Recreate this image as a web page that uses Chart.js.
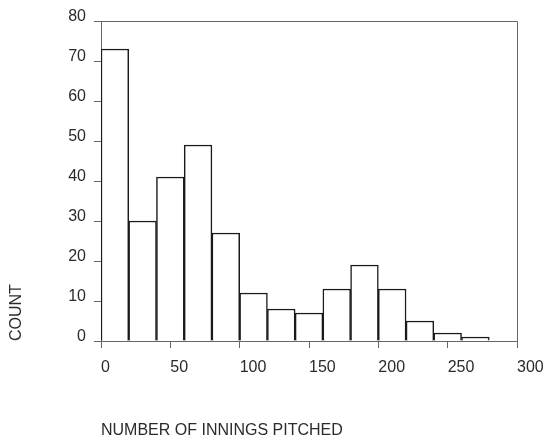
<!DOCTYPE html>
<html>
<head>
<meta charset="utf-8">
<script src="https://cdn.jsdelivr.net/npm/chart.js@4"></script>
<style>
  html, body { margin: 0; padding: 0; background: #fff; }
  #wrap { width: 545px; height: 440px; }
</style>
</head>
<body>
<div id="wrap"><canvas id="c" width="545" height="440"></canvas></div>
<script>
// Histogram bins (innings pitched) and counts
const binLower = [0, 20, 40, 60, 80, 100, 120, 140, 160, 180, 200, 220, 240, 260];
const binUpper = [20, 40, 60, 80, 100, 120, 140, 160, 180, 200, 220, 240, 260, 280];
const counts   = [73, 30, 41, 49, 27, 12, 8, 7, 13, 19, 13, 5, 2, 1];
const xTicks = [0, 50, 100, 150, 200, 250, 300];
const yTicks = [0, 10, 20, 30, 40, 50, 60, 70, 80];
const xTitle = 'NUMBER OF INNINGS PITCHED';
const yTitle = 'COUNT';

const points = binLower.map((lo, i) => ({ x: (lo + binUpper[i]) / 2, y: counts[i] }));

const FONT = "'Liberation Sans', Arial, Helvetica, sans-serif";
const TEXT = '#2b2b2b';
const AXIS = '#666';

function clearPad(axis) {
  axis.paddingTop = 0; axis.paddingBottom = 0;
  axis.paddingLeft = 0; axis.paddingRight = 0;
}

const framePlugin = {
  id: 'frame',
  afterDraw(chart) {
    const { ctx, chartArea: a } = chart;
    ctx.save();
    ctx.strokeStyle = AXIS;
    ctx.lineWidth = 1;
    ctx.beginPath();
    ctx.moveTo(a.left, Math.round(a.top) + 0.5);
    ctx.lineTo(Math.round(a.right) + 0.5, Math.round(a.top) + 0.5);
    ctx.lineTo(Math.round(a.right) + 0.5, a.bottom);
    ctx.stroke();
    ctx.restore();
  }
};

new Chart(document.getElementById('c'), {
  type: 'bar',
  data: {
    datasets: [{
      data: points,
      backgroundColor: '#ffffff',
      borderColor: '#1a1a1a',
      borderWidth: 1.5,
      barPercentage: 1,
      categoryPercentage: 1
    }]
  },
  plugins: [framePlugin],
  options: {
    responsive: false,
    animation: false,
    events: [],
    layout: { padding: { top: 21, right: 28, bottom: 0, left: 0 } },
    plugins: { legend: { display: false }, tooltip: { enabled: false } },
    scales: {
      x: {
        type: 'linear',
        min: 0, max: 300,
        offset: false,
        afterBuildTicks(axis) { axis.ticks = xTicks.map(v => ({ value: v })); },
        afterFit(axis) { axis.height = 99; clearPad(axis); },
        ticks: {
          align: 'start',
          padding: 10,
          color: TEXT,
          font: { family: FONT, size: 16 }
        },
        grid: { display: true, offset: false, drawOnChartArea: false, drawTicks: true, tickLength: 7, color: AXIS },
        border: { display: true, color: AXIS, width: 1 },
        title: {
          display: true, text: xTitle, align: 'start',
          color: TEXT, font: { family: FONT, size: 16 },
          padding: { top: 0, bottom: 0 }
        }
      },
      y: {
        type: 'linear',
        min: 0, max: 80,
        afterBuildTicks(axis) { axis.ticks = yTicks.map(v => ({ value: v })); },
        afterFit(axis) { axis.width = 101; clearPad(axis); },
        ticks: {
          align: 'end',
          labelOffset: 4,
          padding: 8,
          color: TEXT,
          font: { family: FONT, size: 16 }
        },
        grid: { display: true, offset: false, drawOnChartArea: false, drawTicks: true, tickLength: 7, color: AXIS },
        border: { display: true, color: AXIS, width: 1 },
        title: {
          display: true, text: yTitle, align: 'start',
          color: TEXT, font: { family: FONT, size: 16 },
          padding: { top: 7, bottom: 0 }
        }
      }
    }
  }
});
</script>
</body>
</html>
